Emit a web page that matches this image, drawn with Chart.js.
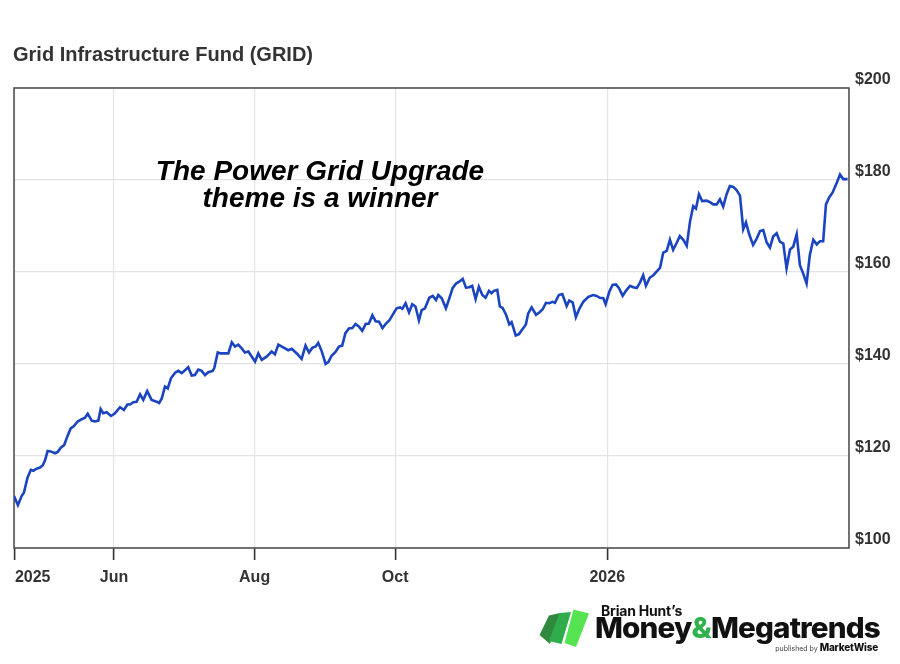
<!DOCTYPE html>
<html>
<head>
<meta charset="utf-8">
<script src="https://cdn.jsdelivr.net/npm/chart.js@4.4.1/dist/chart.umd.min.js"></script>
<style>
html,body{margin:0;padding:0;background:#fff;}
#wrap{position:relative;width:900px;height:664px;overflow:hidden;background:#fff;}
#c{position:absolute;left:0;top:0;}
#icon{position:absolute;left:536px;top:606px;}
#bh{position:absolute;left:601px;top:604px;font:700 14px/14px Inter,"Liberation Sans",sans-serif;color:#111;white-space:nowrap;letter-spacing:-0.2px;}
#mm{position:absolute;left:595px;top:614px;font:800 28px/28px Inter,"Liberation Sans",sans-serif;color:#111;white-space:nowrap;letter-spacing:-0.8px;transform-origin:0 0;}
#mm span{color:#2fb14c;}
#pb{position:absolute;right:22px;top:642px;font:400 7px/10px Inter,"Liberation Sans",sans-serif;color:#444;white-space:nowrap;}
#pb b{font-weight:800;font-size:10px;color:#111;letter-spacing:-0.2px;}
</style>
</head>
<body>
<div id="wrap">
<canvas id="c" width="900" height="664"></canvas>
<svg id="icon" width="56" height="44" viewBox="0 0 56 44">
<polygon points="3.5,29 13,9.5 24,7 14,38" fill="#2f8a3f"/>
<polygon points="13,35 23.5,7 35,6 25.5,38" fill="#30ad4b"/>
<polygon points="28.5,37 37.5,3.5 53,7.5 40,41" fill="#55e352"/>
</svg>
<div id="bh">Brian Hunt’s</div>
<div id="mm">Money<span>&amp;</span>Megatrends</div>
<div id="pb">published by <b>MarketWise</b></div>
</div>
<script>
// ---- data ----
const START_DATE = '2025-04-18';
const dayOffsets = [
0.6,2.3,3.9,4.9,6.4,7.9,9.0,10.2,11.9,13.1,14.1,15.2,16.5,18.4,19.6,20.9,22.4,23.7,25.2,26.6,
28.2,30.0,31.4,32.6,34.3,35.7,37.2,38.2,39.3,40.8,42.7,44.4,46.6,48.3,49.8,50.9,52.4,53.8,55.3,56.7,
58.4,60.3,62.5,63.6,64.7,66.1,67.3,68.7,70.5,71.9,73.4,76.2,77.7,79.1,80.6,82.0,83.5,84.9,86.8,87.5,
89.0,90.3,93.6,95.1,96.5,97.9,99.4,100.8,102.3,105.2,106.6,108.1,110.2,112.4,113.8,115.3,117.4,119.6,121.1,123.3,
125.4,127.1,128.6,130.0,131.5,132.6,134.1,135.8,137.0,138.4,140.1,141.6,143.0,144.4,145.9,147.4,148.8,150.3,151.7,153.2,
154.6,156.1,157.5,159.0,160.5,162.0,163.5,165.0,166.6,168.1,169.1,170.5,172.0,173.4,174.8,176.3,177.5,178.9,180.8,182.3,
183.7,184.7,186.2,188.0,189.5,190.9,192.4,193.8,195.3,196.7,198.1,199.4,200.9,202.3,203.8,205.2,206.7,207.8,208.8,210.3,
211.4,212.6,214.1,215.5,216.5,218.3,219.7,221.6,222.7,223.7,225.2,227.1,228.5,230.0,231.4,232.8,234.3,235.3,237.0,238.5,
240.4,241.5,243.0,244.4,245.9,247.6,249.8,251.9,253.4,254.8,256.3,257.3,258.9,260.3,261.8,263.1,264.7,266.1,267.9,269.3,
270.8,272.2,273.6,274.8,276.5,278.0,279.4,280.9,282.3,283.8,285.2,286.6,288.1,289.5,291.0,292.5,293.9,295.3,296.5,297.8,
299.2,301.1,302.6,304.0,305.5,306.9,308.3,309.8,311.2,312.7,314.1,315.6,317.0,318.2,319.6,321.3,322.8,324.3,325.7,327.2,
328.6,330.0,331.5,332.9,334.4,335.8,337.3,338.7,340.2,341.6,343.0,344.5,345.9,347.4,348.9,350.3,351.7,352.9,354.3,355.8,
357.5,359.0,360.4,362.3
];
const prices = [
111.3,109.3,111.3,112.0,115.2,117.0,116.8,117.2,117.5,118.0,119.1,121.1,121.0,120.6,120.9,121.8,122.4,124.2,126.0,126.5,
127.5,128.0,128.3,129.2,127.7,127.5,127.7,130.2,129.3,129.5,128.7,129.3,130.6,130.0,131.2,131.2,131.7,131.8,133.4,132.2,
134.1,132.2,131.8,131.5,132.5,135.1,134.7,136.9,138.1,138.5,138.0,139.3,137.5,137.6,138.8,138.5,137.6,138.2,138.5,139.1,
142.5,142.3,142.3,144.7,143.8,144.2,143.4,142.5,142.7,140.5,142.3,140.9,141.6,142.7,142.1,144.2,143.6,143.0,143.3,142.3,
141.1,144.0,142.5,143.5,143.8,144.6,142.8,140.0,140.4,141.8,142.6,143.8,144.0,146.7,147.7,147.8,148.7,148.1,147.2,148.7,
148.8,150.6,149.3,149.2,147.8,148.8,149.5,150.8,152.1,152.3,152.0,153.2,151.2,153.0,152.5,149.5,151.7,152.1,154.4,154.8,
153.9,155.0,154.3,152.1,154.3,156.5,157.5,157.9,158.5,156.6,156.7,157.0,154.1,156.8,155.0,154.4,155.9,155.4,155.9,156.1,
152.5,152.2,150.7,148.6,149.1,146.2,146.5,147.8,148.6,151.0,152.3,150.7,151.2,151.9,153.3,153.2,153.5,153.3,155.0,155.2,
152.6,153.8,153.4,150.2,152.0,153.5,154.6,155.0,154.8,154.4,154.3,153.0,155.7,157.2,157.3,156.5,154.8,155.9,157.0,156.7,
156.5,157.7,159.3,157.0,158.8,159.3,160.1,160.9,164.2,164.6,167.0,164.8,166.3,167.8,167.0,165.7,170.9,174.3,173.8,176.9,
175.4,175.5,175.2,174.7,174.7,175.8,174.2,176.9,178.7,178.5,177.8,176.6,169.3,170.8,168.2,165.9,167.2,168.9,169.1,166.4,
165.3,167.7,168.4,166.6,166.2,160.8,164.9,165.5,168.2,161.5,159.7,157.5,163.7,167.0,166.0,166.7,166.7,174.7,176.2,177.3,
179.3,181.2,180.2,180.2
];
const tickDates = ['2025-04-19','2025-06-01','2025-08-01','2025-10-01','2026-01-01'];
const tickLabels = ['2025','Jun','Aug','Oct','2026'];
const yTickValues = [100,120,140,160,180,200];
const X_MIN = 0.6, X_MAX = 362.9;
const Y_MIN = 100, Y_MAX = 200;
const TITLE = 'Grid Infrastructure Fund (GRID)';
const NOTE_LINES = ['The Power Grid Upgrade', 'theme is a winner'];

// ---- build ----
const DAY = 86400000;
const t0 = Date.parse(START_DATE);
const dayOf = d => (Date.parse(d) - t0) / DAY;
const tickDays = tickDates.map(dayOf);
const xTicksAll = tickDays.concat([X_MAX]);
const points = dayOffsets.map((d, i) => ({x: d, y: prices[i]}));

const deco = {
  id: 'deco',
  beforeDatasetsDraw(chart) {
    const {ctx, chartArea: a} = chart;
    ctx.save();
    ctx.strokeStyle = '#4a4a4a';
    ctx.lineWidth = 1.5;
    ctx.strokeRect(a.left, a.top, a.right - a.left, a.bottom - a.top);
    ctx.restore();
  },
  afterDraw(chart) {
    const {ctx} = chart;
    ctx.save();
    ctx.fillStyle = '#333';
    ctx.font = 'bold 20px "Liberation Sans", Arial, sans-serif';
    ctx.textAlign = 'left';
    ctx.textBaseline = 'alphabetic';
    ctx.fillText(TITLE, 13, 60.7);
    ctx.fillStyle = '#000';
    ctx.font = 'italic bold 28px "Liberation Sans", Arial, sans-serif';
    ctx.textAlign = 'center';
    ctx.fillText(NOTE_LINES[0], 320, 179.5);
    ctx.fillText(NOTE_LINES[1], 320, 206.7);
    ctx.restore();
  }
};

new Chart(document.getElementById('c'), {
  type: 'line',
  data: {
    datasets: [{
      data: points,
      borderColor: '#1b44c0',
      borderWidth: 2.6,
      pointRadius: 0,
      pointHoverRadius: 0,
      tension: 0,
      fill: false
    }]
  },
  options: {
    responsive: false,
    animation: false,
    events: [],
    layout: {padding: {left: 14, top: 88, right: 0, bottom: 66}},
    plugins: {legend: {display: false}, tooltip: {enabled: false}, title: {display: false}},
    scales: {
      x: {
        type: 'linear',
        min: X_MIN, max: X_MAX,
        afterBuildTicks: s => { s.ticks = xTicksAll.map(v => ({value: v})); },
        afterFit: s => { s.height = 50; },
        border: {display: false},
        grid: {
          color: '#e4e4e4',
          lineWidth: 1.2,
          tickLength: 12,
          tickWidth: 1.6,
          tickColor: c => (c.index === xTicksAll.length - 1 ? 'rgba(0,0,0,0)' : '#333')
        },
        ticks: {
          autoSkip: false,
          maxRotation: 0,
          align: 'inner',
          padding: 8,
          color: '#333',
          font: {family: '"Liberation Sans", Arial, sans-serif', size: 16, weight: 'bold'},
          callback: (v, i) => (i < tickLabels.length ? tickLabels[i] : '')
        }
      },
      y: {
        position: 'right',
        min: Y_MIN, max: Y_MAX,
        afterBuildTicks: s => { s.ticks = yTickValues.map(v => ({value: v})); },
        afterFit: s => { s.width = 51; },
        border: {display: false},
        grid: {color: '#e4e4e4', lineWidth: 1.2, drawTicks: false},
        ticks: {
          padding: 6,
          labelOffset: -8,
          color: '#333',
          font: {family: '"Liberation Sans", Arial, sans-serif', size: 16, weight: 'bold'},
          callback: v => '$' + v
        }
      }
    }
  },
  plugins: [deco]
});

// fit logo wordmark to its width
(function(){
  const mm = document.getElementById('mm');
  const w = mm.getBoundingClientRect().width;
  if (w > 0) mm.style.transform = 'scaleX(' + (285 / w) + ')';
})();
</script>
</body>
</html>
